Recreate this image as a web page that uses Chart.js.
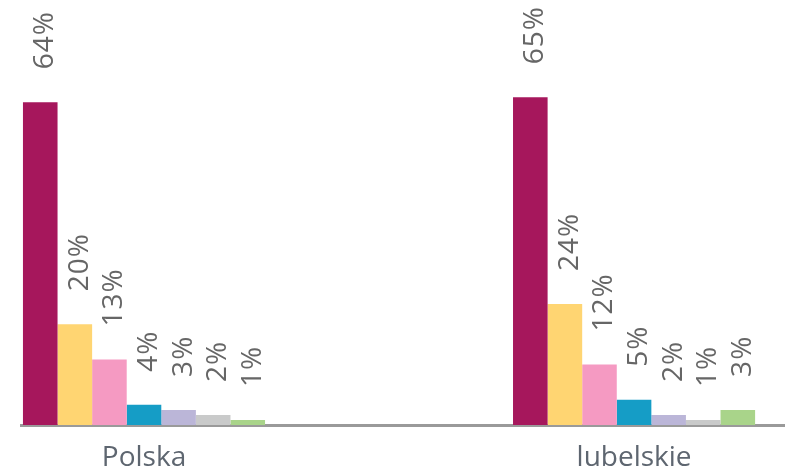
<!DOCTYPE html>
<html>
<head>
<meta charset="utf-8">
<script src="https://cdn.jsdelivr.net/npm/chart.js@4/dist/chart.umd.min.js"></script>
<style>
  html, body { margin: 0; padding: 0; background: #fff; }
  #wrap { position: relative; width: 785px; height: 473px; }
</style>
</head>
<body>
<div id="wrap"><canvas id="chart"></canvas></div>
<script>
// groups along the x axis
const categories = ['Polska', 'lubelskie'];

// one series per bar colour, values in % for [Polska, lubelskie]
const series1 = [64, 65];
const series2 = [20, 24];
const series3 = [13, 12];
const series4 = [4, 5];
const series5 = [3, 2];
const series6 = [2, 1];
const series7 = [1, 3];

const allSeries = [series1, series2, series3, series4, series5, series6, series7];
const colors = ['#A6175C', '#FFD572', '#F59AC2', '#159DC6', '#BBB6D8', '#C9CACA', '#A9D48A'];

// rotated value labels above each bar
const valueLabels = {
    id: 'valueLabels',
    afterDatasetsDraw(chart) {
        const ctx = chart.ctx;
        ctx.save();
        ctx.font = '28px "Open Sans"';
        ctx.letterSpacing = '1px';
        ctx.fillStyle = '#666666';
        ctx.textAlign = 'left';
        ctx.textBaseline = 'alphabetic';
        chart.data.datasets.forEach((ds, di) => {
            const meta = chart.getDatasetMeta(di);
            meta.data.forEach((bar, i) => {
                ctx.save();
                ctx.translate(bar.x + 13, bar.y - 33);
                ctx.rotate(-Math.PI / 2);
                ctx.fillText(allSeries[di][i] + '%', 0, 0);
                ctx.restore();
            });
        });
        ctx.restore();
    }
};

const datasets = allSeries.map((vals, k) => ({
    data: vals.map((v, i) => ({ x: i, y: v })),
    backgroundColor: colors[k],
    borderWidth: 0,
    categoryPercentage: 0.494,
    barPercentage: 1
}));

new Chart(document.getElementById('chart'), {
    type: 'bar',
    data: { datasets: datasets },
    options: {
        responsive: true,
        maintainAspectRatio: false,
        animation: false,
        layout: { padding: { left: 21, right: 0, top: 0, bottom: 0 } },
        plugins: { legend: { display: false }, tooltip: { enabled: false } },
        scales: {
            x: {
                type: 'linear',
                offset: false,
                min: -0.251,
                max: 1.308,
                grid: { display: false, drawTicks: false },
                border: { display: true, color: '#9a9a9a', width: 3 },
                afterBuildTicks: (axis) => { axis.ticks = categories.map((c, i) => ({ value: i })); },
                afterFit: (axis) => { axis.height = 48; },
                ticks: {
                    padding: 16,
                    color: '#5e6670',
                    font: { family: '"Open Sans"', size: 28 },
                    callback: (v) => categories[v] || ''
                }
            },
            y: {
                display: false,
                min: 0,
                max: 84.3
            }
        }
    },
    plugins: [valueLabels]
});
</script>
</body>
</html>
